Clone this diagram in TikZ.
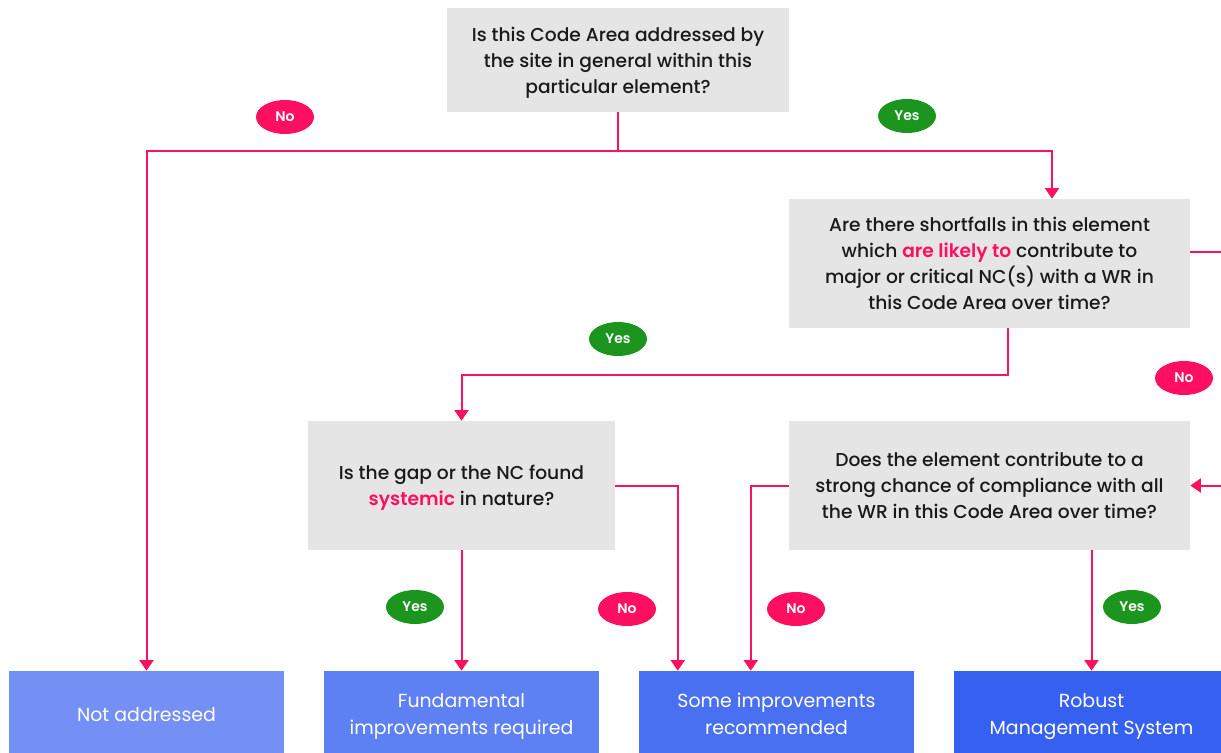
\documentclass[tikz,border=0pt]{standalone}
\usepackage{fontspec}
\setmainfont{Poppins}[UprightFont={* Medium}, BoldFont={* SemiBold}]
\newfontfamily\plainfont{Poppins}
\usetikzlibrary{arrows.meta,shapes.geometric,calc}
\definecolor{boxGray}{HTML}{E5E5E5}
\definecolor{textDark}{HTML}{1A1A1A}
\definecolor{linkPink}{HTML}{FF0F5F}
\definecolor{yesGreen}{HTML}{1C951F}
\definecolor{resOne}{HTML}{7490F5}
\definecolor{resTwo}{HTML}{5D80F3}
\definecolor{resThree}{HTML}{4A70F2}
\definecolor{resFour}{HTML}{3660F0}
\begin{document}
\begin{tikzpicture}[x=0.75pt, y=-0.75pt,
    questStyle/.style={rectangle, fill=boxGray, inner sep=0pt, align=center, text=textDark, text depth=0pt, font=\fontsize{14}{19.5}\selectfont},
    resStyle/.style={rectangle, inner sep=0pt, align=center, text=white, text depth=0pt, minimum width=206.25pt, minimum height=64.5pt, font=\plainfont\fontsize{14.2}{20.25}\selectfont},
    yesStyle/.style={ellipse, fill=yesGreen, inner sep=0pt, minimum width=43.5pt, minimum height=25.5pt, text=white, font=\bfseries\fontsize{10.5}{12}\selectfont},
    noStyle/.style={yesStyle, fill=linkPink},
    linkStyle/.style={draw=linkPink, line width=1.5pt},
    arrowStyle/.style={linkStyle, -{Triangle[length=8pt, width=10.5pt]}}]
    \clip (0,0) rectangle (1221,753);
    % questions
    \node[questStyle, minimum width=256.5pt, minimum height=78pt] (quest_area) at (618, 60) {Is this Code Area addressed by\\the site in general within this\\particular element?};
    \node[questStyle, minimum width=300.75pt, minimum height=96.75pt] (quest_short) at (989.5, 263.5) {Are there shortfalls in this element\\which \textcolor{linkPink}{\bfseries are likely to} contribute to\\major or critical NC(s) with a WR in\\this Code Area over time?};
    \node[questStyle, minimum width=230.25pt, minimum height=96.75pt] (quest_gap) at (461.5, 485.5) {Is the gap or the NC found\\\textcolor{linkPink}{\bfseries systemic} in nature?};
    \node[questStyle, minimum width=300.75pt, minimum height=96.75pt] (quest_comply) at (989.5, 485.5) {Does the element contribute to a\\strong chance of compliance with all\\the WR in this Code Area over time?};
    % results
    \node[resStyle, fill=resOne]   (res_not)    at (146.5, 714) {Not addressed};
    \node[resStyle, fill=resTwo]   (res_fund)   at (461.5, 714) {Fundamental\\improvements required};
    \node[resStyle, fill=resThree] (res_some)   at (776.5, 714) {Some improvements\\recommended};
    \node[resStyle, fill=resFour]  (res_robust) at (1091.5, 714) {Robust\\Management System};
    % links
    \coordinate (split_0) at (618, 151);
    \coordinate (split_r) at (1052, 151);
    \coordinate (split_1) at (1008, 375);
    \coordinate (loop_0)  at (1240, 252);
    \draw[linkStyle] (quest_area.south) -- (split_0);
    \draw[arrowStyle] (split_0) -| (res_not.north);
    \draw[arrowStyle] (split_0) -- (split_r) -- (split_r |- quest_short.north);
    \draw[arrowStyle] (quest_short.south -| split_1) -- (split_1) -| (quest_gap.north);
    \draw[arrowStyle] (quest_gap.south) -- (res_fund.north);
    \draw[arrowStyle] (quest_gap.east) -| ($(res_some.north west)+(39,0)$);
    \draw[arrowStyle] (quest_comply.west) -| ($(res_some.north west)+(112,0)$);
    \draw[arrowStyle] (res_robust.north |- quest_comply.south) -- (res_robust.north);
    \draw[arrowStyle] (quest_short.east |- loop_0) -- (loop_0) |- (quest_comply.east);
    % answers
    \node[noStyle]  (ans_no0)  at (285, 117) {No};
    \node[yesStyle] (ans_yes0) at (907, 116) {Yes};
    \node[yesStyle] (ans_yes1) at (618, 339) {Yes};
    \node[noStyle]  (ans_no1)  at (1184, 378) {No};
    \node[yesStyle] (ans_yes2) at (415, 607) {Yes};
    \node[noStyle]  (ans_no2)  at (627, 609) {No};
    \node[noStyle]  (ans_no3)  at (796, 609) {No};
    \node[yesStyle] (ans_yes3) at (1132, 607) {Yes};
\end{tikzpicture}
\end{document}
